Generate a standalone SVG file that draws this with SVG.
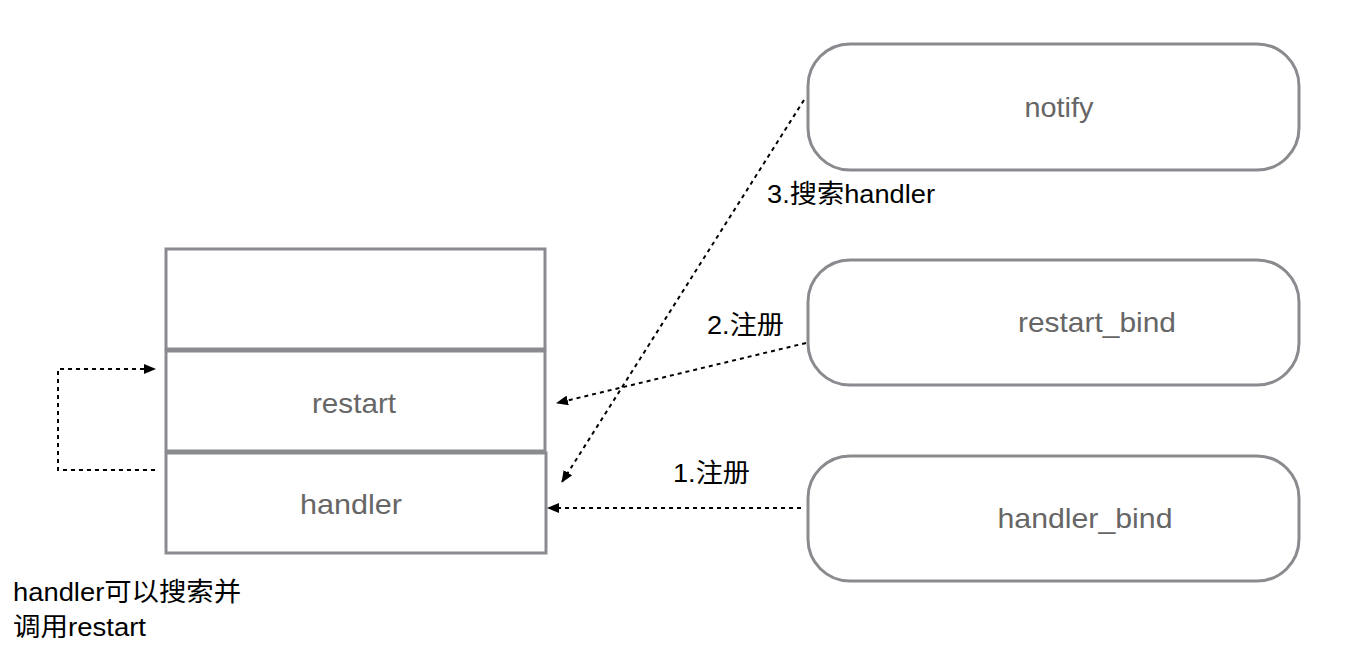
<svg xmlns="http://www.w3.org/2000/svg" width="1356" height="662" viewBox="0 0 1356 662">
<style>
.box{fill:#fff;stroke:#8a8b8f;stroke-width:3}
.rbox{fill:#fff;stroke:#8a8b8f;stroke-width:3}
.nt{font-family:"Liberation Sans","Noto Sans CJK SC",sans-serif;font-size:28px;fill:#666;text-anchor:middle}
.lb{font-family:"Liberation Sans","Noto Sans CJK SC",sans-serif;font-size:26px;fill:#000}
.ed{fill:none;stroke:#000;stroke-width:2;stroke-dasharray:4 4}
</style>
<defs>
<marker id="ah" markerWidth="12" markerHeight="10" refX="11" refY="5" orient="auto" markerUnits="userSpaceOnUse">
<path d="M0,0 L12,5 L0,10 Z" fill="#000"/>
</marker>
</defs>
<rect width="1356" height="662" fill="#fff"/>
<g id="top-slot"><rect class="box" x="166" y="249" width="379" height="100"/></g>
<g id="restart"><rect class="box" x="166" y="351" width="379" height="100"/><text class="nt" x="354" y="413" textLength="84" lengthAdjust="spacingAndGlyphs">restart</text></g>
<g id="handler"><rect class="box" x="166" y="453" width="380" height="100"/><text class="nt" x="351" y="514" textLength="102" lengthAdjust="spacingAndGlyphs">handler</text></g>
<g id="notify"><rect class="rbox" x="808" y="44" width="491" height="126" rx="42"/><text class="nt" x="1059" y="117" textLength="69" lengthAdjust="spacingAndGlyphs">notify</text></g>
<g id="restart_bind"><rect class="rbox" x="808" y="260" width="491" height="125" rx="42"/><text class="nt" x="1097" y="332" textLength="158" lengthAdjust="spacingAndGlyphs">restart_bind</text></g>
<g id="handler_bind"><rect class="rbox" x="808" y="456" width="491" height="125" rx="42"/><text class="nt" x="1085" y="528" textLength="175" lengthAdjust="spacingAndGlyphs">handler_bind</text></g>
<g id="connectors">
<polyline class="ed" points="155,470 58,470 58,369 155,369" marker-end="url(#ah)"/>
<line class="ed" x1="806" y1="343" x2="557" y2="403" marker-end="url(#ah)"/>
<line class="ed" x1="804" y1="100" x2="562" y2="482" marker-end="url(#ah)"/>
<line class="ed" x1="801" y1="508" x2="548" y2="508" marker-end="url(#ah)"/>
</g>
<g id="labels">
<text class="lb" x="767" y="203" textLength="168" lengthAdjust="spacingAndGlyphs">3.搜索handler</text>
<text class="lb" x="707" y="334" textLength="77" lengthAdjust="spacingAndGlyphs">2.注册</text>
<text class="lb" x="673" y="482" textLength="77" lengthAdjust="spacingAndGlyphs">1.注册</text>
<text class="lb" x="13" y="601" textLength="228" lengthAdjust="spacingAndGlyphs">handler可以搜索并</text>
<text class="lb" x="13" y="636" textLength="133" lengthAdjust="spacingAndGlyphs">调用restart</text>
</g>
</svg>
